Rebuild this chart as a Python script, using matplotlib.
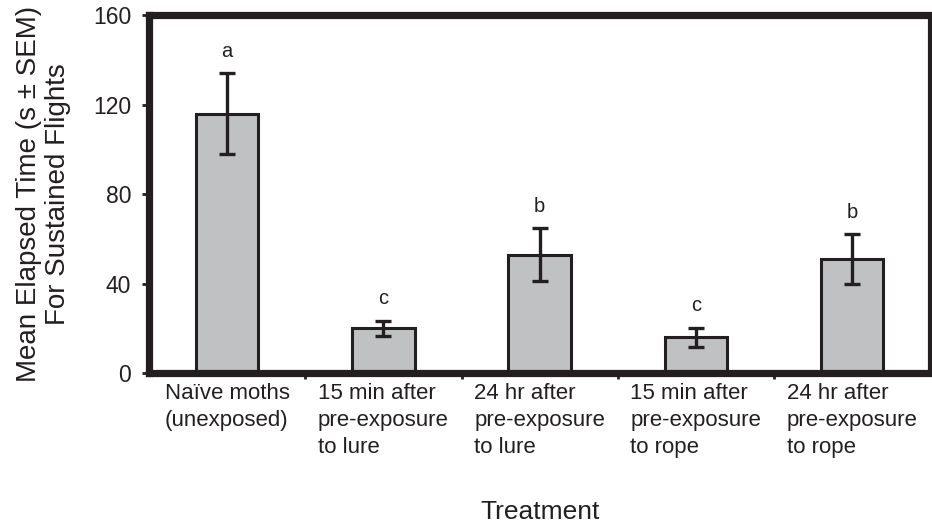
import matplotlib
matplotlib.use("Agg")
import matplotlib.pyplot as plt
import numpy as np

categories = ["Naïve moths\n(unexposed)",
              "15 min after\npre-exposure\nto lure",
              "24 hr after\npre-exposure\nto lure",
              "15 min after\npre-exposure\nto rope",
              "24 hr after\npre-exposure\nto rope"]
means = [116, 20, 53, 16, 51]
sems = [18, 3.4, 11.8, 4.2, 11]
letters = ["a", "c", "b", "c", "b"]
yticks = [0, 40, 80, 120, 160]

plt.rcParams['font.family'] = ['Liberation Sans', 'DejaVu Sans']
dark = "#231f20"

fig = plt.figure(figsize=(9.32, 5.24), dpi=100)
ax = fig.add_axes([0.160, 0.288, 0.838, 0.683])

x = np.arange(len(categories))
ax.bar(x, means, width=0.40, color="#c0c1c3", edgecolor=dark, linewidth=2.2, zorder=2)
ax.errorbar(x, means, yerr=sems, fmt="none", ecolor=dark, elinewidth=2.4,
            capsize=6, capthick=2.4, zorder=3)
for xi, m, s, l in zip(x, means, sems, letters):
    ax.annotate(l, (xi, m + s), xytext=(0, 9), textcoords="offset points",
                ha="center", va="bottom", fontsize=14.5, color=dark)

ax.set_xlim(-0.5, len(categories) - 0.5)
ax.set_ylim(0, 160)
ax.set_yticks(yticks)
ax.set_yticklabels([str(v) for v in yticks], fontsize=16.5, color=dark)
ax.tick_params(axis="y", direction="out", length=5, width=2, color=dark, pad=8)

ax.set_xticks(x)
ax.set_xticklabels(categories, fontsize=16, color=dark, multialignment="left",
                   linespacing=1.38)
ax.tick_params(axis="x", which="major", length=0, pad=7)
ax.set_xticks(np.arange(0.5, len(categories) - 0.5, 1.0), minor=True)
ax.tick_params(axis="x", which="minor", direction="out", length=4, width=2, color=dark)

for side in ["left", "top", "bottom"]:
    ax.spines[side].set_linewidth(5.2)
    ax.spines[side].set_color(dark)
ax.spines["right"].set_linewidth(3)
ax.spines["right"].set_color(dark)

ax.set_ylabel("Mean Elapsed Time (s ± SEM)\nFor Sustained Flights", fontsize=20,
              color=dark, linespacing=1.15, labelpad=16)
ax.set_xlabel("Treatment", fontsize=19, color=dark, labelpad=30)

fig.savefig("out.png", dpi=100)
